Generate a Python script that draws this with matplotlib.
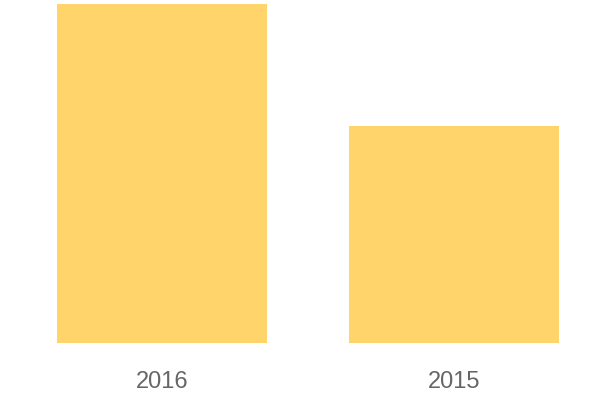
import matplotlib
matplotlib.use("Agg")
import matplotlib.pyplot as plt

categories = ["2016", "2015"]
values = [100, 64]

fig = plt.figure(figsize=(6, 4), dpi=100)
W, H = 600, 400
ax = fig.add_axes([0, (H - 343) / H, 1, (343 - 4) / H])
x = list(range(len(categories)))
ax.bar(x, values, width=210 / 292, color="#FFD56B")
ax.set_xlim(-162 / 292, (600 - 162) / 292)
ax.set_ylim(0, max(values))
ax.set_xticks(x)
ax.set_xticklabels(categories, fontsize=17, color="#666666", family="Liberation Sans")
ax.tick_params(axis="x", length=0, pad=20)
ax.set_yticks([])
for s in ax.spines.values():
    s.set_visible(False)
fig.savefig("out.png", dpi=100)
